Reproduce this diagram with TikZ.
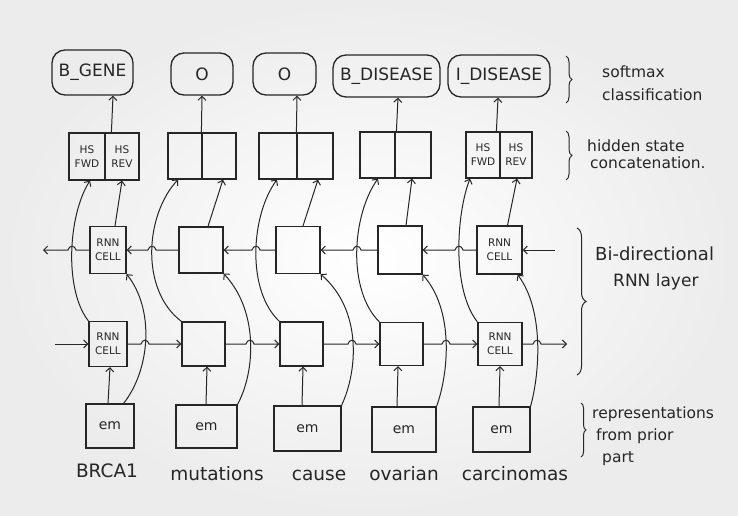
\documentclass[tikz,border=0pt]{standalone}
\usepackage{fontspec}
\setmainfont{DejaVu Sans}
\usetikzlibrary{arrows.meta,decorations.pathreplacing,calc}
\definecolor{ink}{HTML}{262626}
\begin{document}
\begin{tikzpicture}[x=1pt,y=-1pt,
  ln/.style={draw=ink,line width=1pt},
  arr/.style={ln,-{Straight Barb[length=4pt,width=8pt]}},
  cellbox/.style={draw=ink,line width=1.2pt,inner sep=0pt,font=\fontsize{10.5}{14}\selectfont,align=center,text=ink},
  tagbox/.style={draw=ink,line width=1.3pt,rounded corners=13pt,inner sep=0pt,font=\fontsize{17}{19}\selectfont,text=ink},
  embox/.style={draw=ink,line width=1.1pt,inner sep=0pt,font=\fontsize{14}{16}\selectfont,text=ink},
  word/.style={font=\fontsize{18.5}{20}\selectfont,text=ink,inner sep=0pt,anchor=base},
  note/.style={font=\fontsize{15.5}{17}\selectfont,text=ink,anchor=base west,inner sep=0pt},
  brc/.style={draw=ink,line width=1pt,decorate,decoration={brace,amplitude=#1}},
]
\useasboundingbox (0,0) rectangle (738,516);
\shade[inner color=white,outer color=gray!15] (0,0) rectangle (738,516);

% softmax tags
\node[tagbox,minimum width=81pt,minimum height=45pt] (t1) at (92.5,72.5) {B\_GENE};
\node[tagbox,minimum width=62pt,minimum height=42pt] (t2) at (202,74) {O};
\node[tagbox,minimum width=63pt,minimum height=42pt] (t3) at (284.5,74) {O};
\node[tagbox,minimum width=107pt,minimum height=42pt] (t4) at (386.5,76) {B\_DISEASE};
\node[tagbox,minimum width=102pt,minimum height=42pt] (t5) at (499,76) {I\_DISEASE};

% hidden state concatenation
\node[cellbox,minimum width=36pt,minimum height=47pt] (hf1) at (87,156.5) {HS\\FWD};
\node[cellbox,minimum width=34pt,minimum height=47pt] (hr1) at (122,156.5) {HS\\REV};
\node[cellbox,minimum width=34pt,minimum height=46pt] (hf2) at (185,156) {};
\node[cellbox,minimum width=34pt,minimum height=46pt] (hr2) at (219,156) {};
\node[cellbox,minimum width=38pt,minimum height=46pt] (hf3) at (278,156) {};
\node[cellbox,minimum width=36pt,minimum height=46pt] (hr3) at (315,156) {};
\node[cellbox,minimum width=35pt,minimum height=46pt] (hf4) at (377.5,155) {};
\node[cellbox,minimum width=36pt,minimum height=46pt] (hr4) at (413,155) {};
\node[cellbox,minimum width=34pt,minimum height=46pt] (hf5) at (483,155) {HS\\FWD};
\node[cellbox,minimum width=32pt,minimum height=46pt] (hr5) at (516,155) {HS\\REV};

% backward RNN row
\node[cellbox,minimum width=36pt,minimum height=47pt] (b1) at (108,250) {RNN\\CELL};
\node[cellbox,minimum width=44pt,minimum height=46pt] (b2) at (201,250) {};
\node[cellbox,minimum width=44pt,minimum height=47pt] (b3) at (298,250) {};
\node[cellbox,minimum width=44pt,minimum height=48pt] (b4) at (400,250) {};
\node[cellbox,minimum width=45pt,minimum height=48pt] (b5) at (499.5,250) {RNN\\CELL};

% forward RNN row
\node[cellbox,minimum width=38pt,minimum height=45pt] (f1) at (108,344) {RNN\\CELL};
\node[cellbox,minimum width=43pt,minimum height=44pt] (f2) at (203.5,344) {};
\node[cellbox,minimum width=43pt,minimum height=44pt] (f3) at (301.5,344) {};
\node[cellbox,minimum width=43pt,minimum height=43pt] (f4) at (401.5,344) {};
\node[cellbox,minimum width=44pt,minimum height=43pt] (f5) at (500,344) {RNN\\CELL};

% embeddings
\node[embox,minimum width=48pt,minimum height=44pt] (e1) at (110,426) {em};
\node[embox,minimum width=61pt,minimum height=43pt] (e2) at (206.5,426.5) {em};
\node[embox,minimum width=67pt,minimum height=45pt] (e3) at (307.5,428.5) {em};
\node[embox,minimum width=64pt,minimum height=45pt] (e4) at (404,429.5) {em};
\node[embox,minimum width=57pt,minimum height=45pt] (e5) at (501.5,429.5) {em};

% words
\node[word] (w1) at (107,477) {BRCA1};
\node[word] (w2) at (217,480) {mutations};
\node[word] (w3) at (319,480) {cause};
\node[word] (w4) at (404,480) {ovarian};
\node[word] (w5) at (515,480) {carcinomas};

% annotations
\node[note] (n1) at (602,78) {softmax};
\node[note] (n2) at (602,101) {classification};
\node[note] (n3) at (587,151) {hidden state};
\node[note] (n4) at (590,168) {concatenation.};
\node[note,font=\fontsize{18}{20}\selectfont] (n5) at (595,260) {Bi-directional};
\node[note,font=\fontsize{17}{20}\selectfont] (n6) at (613,286) {RNN layer};
\node[note] (n7) at (592,418) {representations};
\node[note] (n8) at (596,440) {from prior};
\node[note] (n9) at (602,462) {part};

% braces
\draw[brc=6pt] (566,56) -- (566,103);
\draw[brc=6pt] (566,131) -- (566,180);
\draw[brc=9pt] (577,228) -- (577,375);
\draw[brc=5pt] (581,403) -- (581,457);

% embedding -> forward cell
\draw[arr] ([xshift=-2pt]e1.north) -- ([xshift=2pt]f1.south);
\draw[arr] ([xshift=-0.5pt]e2.north) -- ([xshift=3.5pt]f2.south);
\draw[arr] ([xshift=-5.5pt]e3.north) -- ([xshift=1.5pt]f3.south);
\draw[arr] ([xshift=-7pt]e4.north) -- ([xshift=-3.5pt]f4.south);
\draw[arr] ([xshift=-2.5pt]e5.north) -- (f5.south);

% embedding -> backward cell (curved)
\draw[arr] ([xshift=-11pt]e1.north east) .. controls (150,370) and (155,310) .. (b1.south east);
\draw[arr] (e2.north east) .. controls (256,370) and (258,310) .. (b2.south east);
\draw[arr] (e3.north east) .. controls (358,370) and (362,310) .. (b3.south east);
\draw[arr] (e4.north east) .. controls (449,372) and (454,310) .. (b4.south east);
\draw[arr] (e5.north east) .. controls (540,372) and (544,310) .. ([xshift=-5pt]b5.south east);

% forward cell -> HS FWD (curved)
\draw[arr] (f1.north west) .. controls (64,290) and (68,215) .. ([xshift=3pt]hf1.south);
\draw[arr] (f2.north west) .. controls (140,290) and (145,215) .. ([xshift=-7pt]hf2.south);
\draw[arr] (f3.north west) .. controls (246,290) and (251,215) .. ([xshift=-1pt]hf3.south);
\draw[arr] (f4.north west) .. controls (347,290) and (352,215) .. ([xshift=0.5pt]hf4.south);
\draw[arr] (f5.north west) .. controls (452,290) and (456,215) .. ([xshift=-13pt]hf5.south);

% backward cell -> HS REV
\draw[arr] ([xshift=7pt]b1.north) -- (hr1.south);
\draw[arr] ([xshift=7pt]b2.north) -- ([xshift=4pt]hr2.south);
\draw[arr] ([xshift=5pt]b3.north) -- ([xshift=3pt]hr3.south);
\draw[arr] ([xshift=6pt]b4.north) -- ([xshift=-1pt]hr4.south);
\draw[arr] ([xshift=8pt]b5.north) -- ([xshift=1pt]hr5.south);

% HS -> softmax
\draw[arr] ([xshift=7pt]hr1.north west) -- ([xshift=20.5pt]t1.south);
\draw[arr] (hr2.north west) -- (t2.south);
\draw[arr] (hr3.north west) -- ([xshift=12.5pt]t3.south);
\draw[arr] ([xshift=2pt]hr4.north west) -- ([xshift=11.5pt]t4.south);
\draw[arr] ([xshift=-3pt]hr5.north west) -- ([xshift=-1pt]t5.south);

% backward chain (right to left), with hops over the curves
\coordinate (binR) at (555,250);
\coordinate (boutL) at (43,250);
\draw[arr] (binR) -- (b5.east);
\draw[arr] (b5.west) -- (463,250) .. controls (462,245) and (456,245) .. (455,250) -- (b4.east);
\draw[arr] (b4.west) -- (361,250) .. controls (360,245) and (354,245) .. (353,250) -- (b3.east);
\draw[arr] (b3.west) -- (260,250) .. controls (259,245) and (253,245) .. (252,250) -- (b2.east);
\draw[arr] (b2.west) -- (156,250) .. controls (155,245) and (149,245) .. (148,250) -- (b1.east);
\draw[arr] (b1.west) -- (76,250) .. controls (75,245) and (69,245) .. (68,250) -- (boutL);

% forward chain (left to right)
\coordinate (finL) at (55,344);
\coordinate (foutR) at (567,344);
\draw[arr] (finL) -- (f1.west);
\draw[arr] (f1.east) -- (141,344) .. controls (142,339) and (148,339) .. (149,344) -- (f2.west);
\draw[arr] (f2.east) -- (246,344) .. controls (247,339) and (253,339) .. (254,344) -- (f3.west);
\draw[arr] (f3.east) -- (348,344) .. controls (349,339) and (355,339) .. (356,344) -- (f4.west);
\draw[arr] (f4.east) -- (442,344) .. controls (443,339) and (449,339) .. (450,344) -- (f5.west);
\draw[arr] (f5.east) -- (533,344) .. controls (534,339) and (540,339) .. (541,344) -- (foutR);
\end{tikzpicture}
\end{document}
